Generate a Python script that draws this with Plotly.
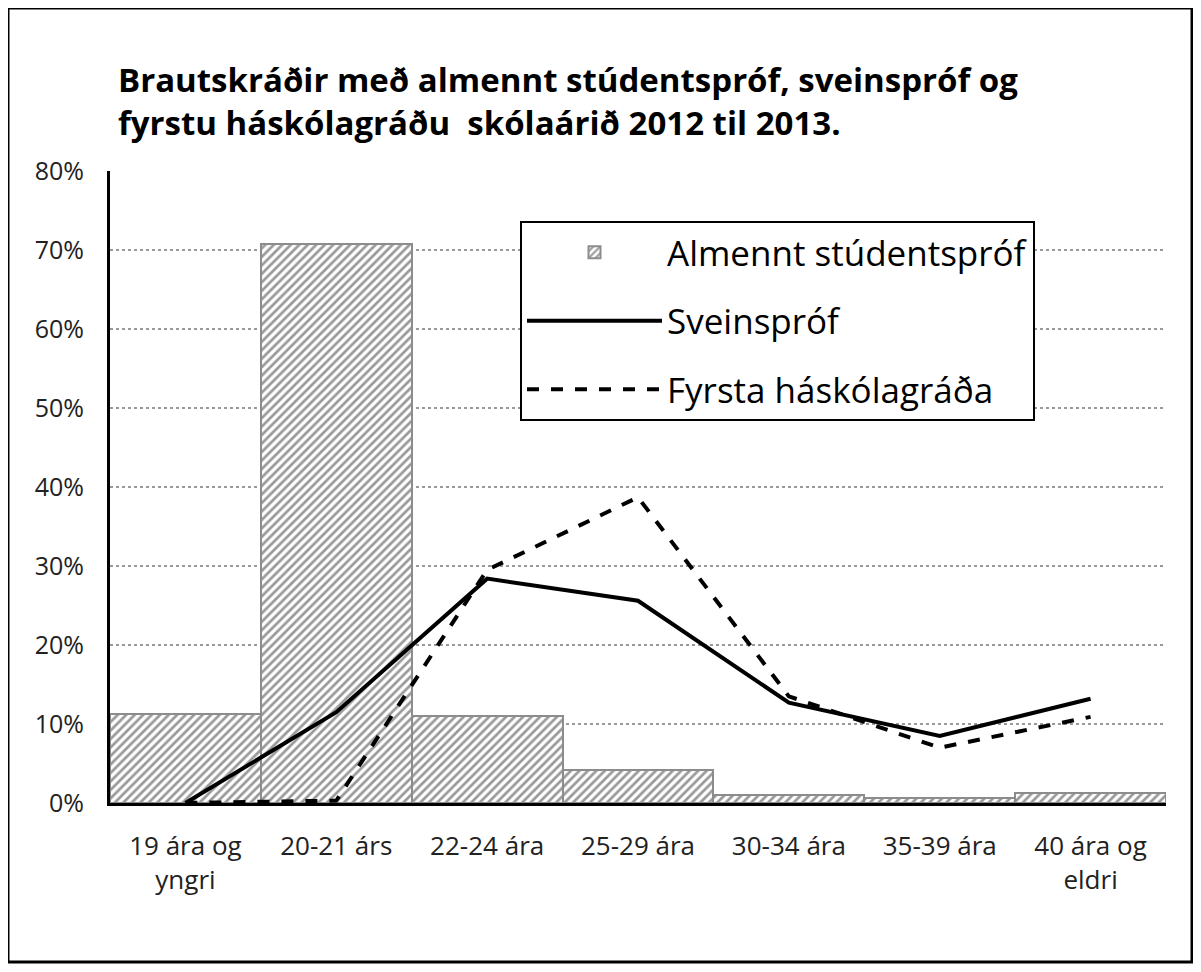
import plotly.graph_objects as go

categories = ["19 ára og<br>yngri", "20-21 árs", "22-24 ára", "25-29 ára", "30-34 ára", "35-39 ára", "40 ára og<br>eldri"]
almennt = [11.3, 70.8, 11.0, 4.2, 1.0, 0.6, 1.3]
sveinsprof = [0.0, 11.5, 28.4, 25.6, 12.7, 8.5, 13.2]
fyrsta = [0.0, 0.3, 29.5, 38.7, 13.5, 7.0, 10.9]
y_ticks = [0, 10, 20, 30, 40, 50, 60, 70, 80]
y_labels = [f"{v}%" for v in y_ticks]

FONT = "Open Sans, Liberation Sans, Arial"

# page body has an 8px margin; layout numbers compensate for it
L, T, PW, PH = 102, 163, 1056, 632
W, H = 1201, 972

fig = go.Figure()
fig.add_trace(go.Bar(
    x=categories, y=almennt, name="Almennt stúdentspróf",
    marker=dict(color="white", line=dict(color="#8c8c8c", width=2),
                pattern=dict(shape="/", fgcolor="#333333", bgcolor="white", size=6, solidity=0.45)),
    legendgroup="a",
))
fig.add_trace(go.Scatter(
    x=categories, y=sveinsprof, name="Sveinspróf", mode="lines",
    line=dict(color="black", width=4), legendgroup="b",
))
fig.add_trace(go.Scatter(
    x=categories, y=fyrsta, name="Fyrsta háskólagráða", mode="lines",
    line=dict(color="black", width=4, dash="dash"), legendgroup="c",
))

fig.update_layout(
    width=W, height=H,
    margin=dict(l=L, r=W - L - PW, t=T, b=H - T - PH),
    paper_bgcolor="white", plot_bgcolor="white",
    bargap=0,
    font=dict(family=FONT, color="black"),
    title=dict(
        text="<b>Brautskráðir með almennt stúdentspróf, sveinspróf og<br>fyrstu háskólagráðu  skólaárið 2012 til 2013.</b>",
        x=110 / W, xanchor="left", y=1 - 84 / H, yanchor="top",
        font=dict(size=33, family=FONT, color="black"),
    ),
    legend=dict(
        x=(512 - L) / PW, xanchor="left", y=(T + PH - 213) / PH, yanchor="top",
        bordercolor="black", borderwidth=2, bgcolor="white",
        font=dict(size=35, family=FONT, color="black"),
        tracegroupgap=20, itemwidth=135,
    ),
    xaxis=dict(
        showline=True, linecolor="black", linewidth=3, ticks="",
        tickfont=dict(size=26, family=FONT, color="#222"),
        showgrid=False, ticklabelstandoff=18,
    ),
    yaxis=dict(
        range=[0, 80], tickvals=y_ticks, ticktext=y_labels,
        showline=True, linecolor="black", linewidth=3, ticks="",
        showgrid=True, gridcolor="#999999", griddash="dot", gridwidth=2,
        tickfont=dict(size=25, family=FONT, color="#222"),
        zeroline=False, ticklabelstandoff=18,
    ),
    shapes=[dict(type="rect", xref="paper", yref="paper",
                 x0=-L / PW, x1=(1184 - L) / PW, y0=(T + PH - 954) / PH, y1=(T + PH) / PH,
                 line=dict(color="black", width=3), layer="above")],
)

fig.write_html("out.html")
